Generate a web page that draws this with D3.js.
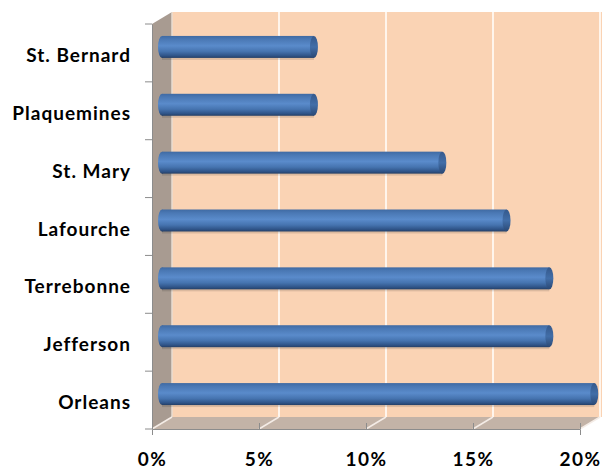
<!DOCTYPE html>
<html><head><meta charset="utf-8">
<script src="https://cdn.jsdelivr.net/npm/d3@7"></script>
<style>body{margin:0;background:#fff}svg{display:block}</style>
</head><body>
<svg id="c" width="604" height="469"></svg>
<script>
const categories = ["St. Bernard","Plaquemines","St. Mary","Lafourche","Terrebonne","Jefferson","Orleans"];
const values = [7.1, 7.1, 13.1, 16.1, 18.1, 18.1, 20.2];
const tickValues = [0,5,10,15,20];
const tickLabels = ["0%","5%","10%","15%","20%"];

const svg = d3.select("#c");
const x = d3.scaleLinear().domain([0,20]).range([152,580]);
const y = d3.scaleBand().domain(categories).range([24,429]).paddingInner(0.62).paddingOuter(0.31);
const yb = d3.scaleBand().domain(categories).range([24,429]);
const dx = 20, dy = -12;
const plotTop = 24, plotBot = 429;
const font = "Lato, 'Open Sans', sans-serif";

const defs = svg.append("defs");
const g1 = defs.append("linearGradient").attr("id","cyl").attr("x1",0).attr("y1",0).attr("x2",0).attr("y2",1);
[[0,"#3f6aa3"],[0.15,"#4a78b4"],[0.45,"#5a8bcb"],[0.7,"#4674b0"],[0.9,"#2f5488"],[1,"#253f66"]].forEach(s=>g1.append("stop").attr("offset",s[0]).attr("stop-color",s[1]));
const g2 = defs.append("linearGradient").attr("id","cap").attr("x1",0).attr("y1",0).attr("x2",0).attr("y2",1);
[[0,"#35598c"],[0.5,"#426ea8"],[1,"#2a4874"]].forEach(s=>g2.append("stop").attr("offset",s[0]).attr("stop-color",s[1]));

const x0 = x(0), x1 = x(20);
svg.append("polygon").attr("points",[[x0+dx,plotTop+dy],[x1+dx+2,plotTop+dy],[x1+dx+2,plotBot+dy],[x0+dx,plotBot+dy]].join(" ")).attr("fill","#fad3b4");
svg.append("polygon").attr("points",[[x0,plotTop],[x0+dx,plotTop+dy],[x0+dx,plotBot+dy],[x0,plotBot]].join(" ")).attr("fill","#a89b91");
svg.append("polygon").attr("points",[[x0,plotBot],[x1,plotBot],[x1+dx,plotBot+dy],[x0+dx,plotBot+dy]].join(" ")).attr("fill","#c3b3a7");

tickValues.slice(1).forEach(t=>{
  svg.append("line").attr("x1",x(t)+dx).attr("x2",x(t)+dx).attr("y1",plotTop+dy).attr("y2",plotBot+dy).attr("stroke","#fff5ec").attr("stroke-width",2);
  svg.append("line").attr("x1",x(t)).attr("x2",x(t)+dx).attr("y1",plotBot).attr("y2",plotBot+dy).attr("stroke","#f4ece6").attr("stroke-width",1.5);
});
svg.append("line").attr("x1",x0+dx).attr("x2",x0+dx).attr("y1",plotTop+dy).attr("y2",plotBot+dy).attr("stroke","#e9ddd2").attr("stroke-width",1.5);
svg.append("line").attr("x1",x0).attr("x2",x0+dx).attr("y1",plotBot).attr("y2",plotBot+dy).attr("stroke","#f4ece6").attr("stroke-width",1.5);

const ax = d3.axisBottom(x).tickValues(tickValues).tickFormat((d,i)=>tickLabels[i]).tickSize(6).tickPadding(18);
const gx = svg.append("g").attr("transform",`translate(0,${plotBot})`).call(ax);
gx.select(".domain").attr("stroke","#8c8c8c");
gx.selectAll(".tick line").attr("stroke","#8c8c8c").attr("y1",-6).attr("y2",0);
gx.selectAll("text").attr("fill","#000").style("font-family",font).style("font-weight","bold").style("font-size","19px").style("letter-spacing","1.5px");

const ay = d3.axisLeft(yb).tickSize(0).tickPadding(21);
const gy = svg.append("g").attr("transform",`translate(${x0},0)`).call(ay);
gy.select(".domain").attr("stroke","#8c8c8c");
gy.selectAll("text").attr("fill","#000").attr("dy","0.48em").style("font-family",font).style("font-weight","bold").style("font-size","19px").style("letter-spacing","1px");
const bounds = categories.map(c=>yb(c)).concat([plotBot]);
svg.selectAll(".bt").data(bounds).enter().append("line").attr("x1",x0-7).attr("x2",x0).attr("y1",d=>d).attr("y2",d=>d).attr("stroke","#8c8c8c");

const mx = dx/2, my = dy/2;
const rx = 4;
const bars = svg.selectAll(".bar").data(categories.map((c,i)=>({c,v:values[i]}))).enter().append("g");
bars.append("rect").attr("x",x(0)+mx).attr("y",d=>y(d.c)+my+2).attr("width",d=>x(d.v)-x(0)).attr("height",y.bandwidth()).attr("fill","#000").attr("opacity",0.12);
bars.append("ellipse").attr("cx",x(0)+mx).attr("cy",d=>y(d.c)+my+y.bandwidth()/2).attr("rx",rx).attr("ry",y.bandwidth()/2).attr("fill","url(#cyl)");
bars.append("rect").attr("x",x(0)+mx).attr("y",d=>y(d.c)+my).attr("width",d=>x(d.v)-x(0)).attr("height",y.bandwidth()).attr("fill","url(#cyl)");
bars.append("ellipse").attr("cx",d=>x(d.v)+mx).attr("cy",d=>y(d.c)+my+y.bandwidth()/2).attr("rx",rx).attr("ry",y.bandwidth()/2).attr("fill","url(#cap)");
</script>
</body></html>
